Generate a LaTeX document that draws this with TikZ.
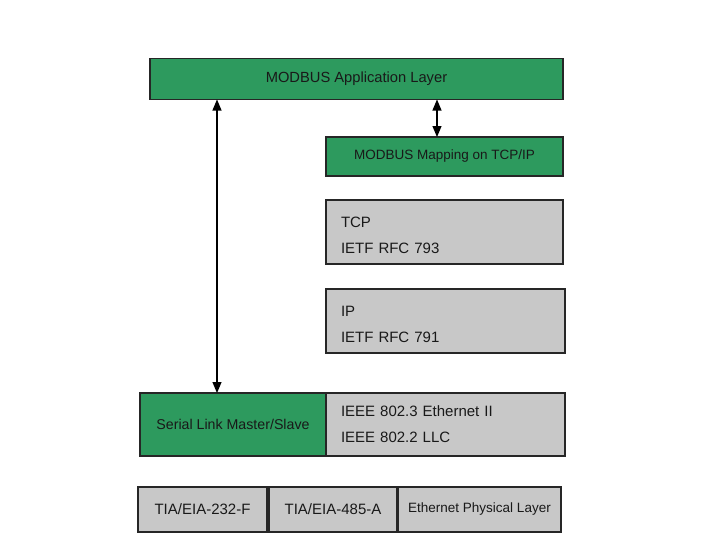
\documentclass[tikz,border=0pt]{standalone}
\usepackage{fontspec}
\setmainfont{Liberation Sans}
\usetikzlibrary{arrows.meta}
\definecolor{mgreen}{HTML}{2D9A5E}
\definecolor{mgray}{HTML}{C8C8C8}
\newcommand{\upstrut}{\rule{0pt}{17pt}}
\begin{document}
\begin{tikzpicture}[x=1pt,y=-1pt,
  box/.style={draw=black!85,line width=1.2pt,inner sep=0pt,outer sep=0pt,text=black!90},
  gbox/.style={box,fill=mgreen},
  ybox/.style={box,fill=mgray},
  arr/.style={{Triangle[length=11pt,width=9pt]}-{Triangle[length=11pt,width=9pt]},line width=1.2pt}]
\useasboundingbox (0,0) rectangle (713,552);
\node[gbox,minimum width=413,minimum height=41,font=\fontsize{14.7}{16}\selectfont] (app) at (356.5,79) {MODBUS Application Layer};
\node[gbox,minimum width=237,minimum height=39,font=\fontsize{13.5}{15}\selectfont] (map) at (444.5,156.5) {MODBUS Mapping on TCP/IP};
\node[ybox,minimum width=237,minimum height=64,text width=207,align=left,font=\fontsize{15}{26}\selectfont] (tcp) at (444.5,232) {\upstrut TCP\\IETF RFC 793};
\node[ybox,minimum width=239,minimum height=64,text width=209,align=left,font=\fontsize{15}{26}\selectfont] (ip) at (445.5,321) {\upstrut IP\\IETF RFC 791};
\node[gbox,minimum width=186,minimum height=63,font=\fontsize{14.2}{16}\selectfont] (ser) at (233,424.5) {Serial Link Master/Slave};
\node[ybox,minimum width=239,minimum height=63,text width=209,align=left,font=\fontsize{15}{26}\selectfont] (eth) at (445.5,424.5) {IEEE 802.3 Ethernet II\\IEEE 802.2 LLC};
\node[ybox,minimum width=129,minimum height=45,font=\fontsize{15}{16}\selectfont] (b1) at (202.5,509.5) {TIA/EIA-232-F};
\node[ybox,minimum width=128,minimum height=45,font=\fontsize{15}{16}\selectfont] (b2) at (333,509.5) {TIA/EIA-485-A};
\node[ybox,minimum width=163,minimum height=45,font=\fontsize{13.5}{16}\selectfont] (b3) at (479.5,509.5) {Ethernet Physical Layer};
\draw[arr] ([xshift=-16pt]ser.north) -- ([xshift=-16pt]ser.north |- app.south);
\draw[arr] ([xshift=-7.5pt]map.north) -- ([xshift=-7.5pt]map.north |- app.south);
\end{tikzpicture}
\end{document}
